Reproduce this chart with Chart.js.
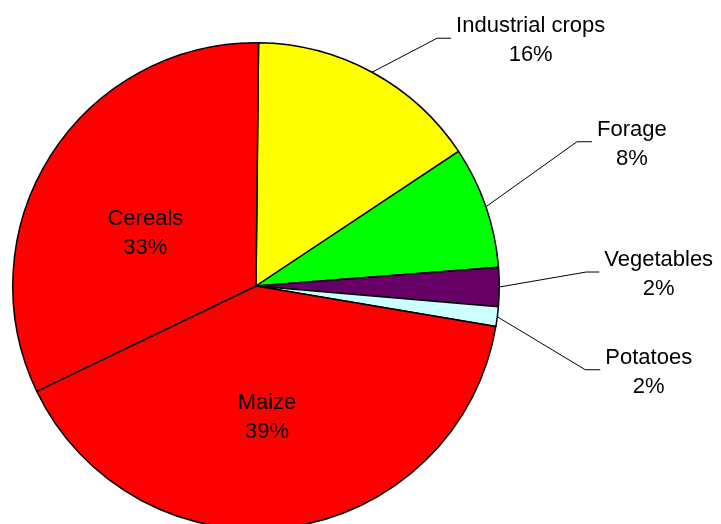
<!DOCTYPE html>
<html>
<head>
<meta charset="utf-8">
<script src="https://cdn.jsdelivr.net/npm/chart.js@4/dist/chart.umd.min.js"></script>
<style>
  html, body { margin: 0; padding: 0; background: #fff; overflow: hidden; }
  #wrap { width: 721px; height: 572px; }
</style>
</head>
<body>
<div id="wrap"><canvas id="pie" width="721" height="572"></canvas></div>
<script>
// 数据 (slice sizes, printed labels as shown)
const categories = ['Industrial crops', 'Forage', 'Vegetables', 'Potatoes', 'Maize', 'Cereals'];
const shares = [15.5, 8.1, 2.6, 1.3, 40.2, 32.3];
const pctLabels = ['16%', '8%', '2%', '2%', '39%', '33%'];
const colors = ['#FFFF00', '#00FF00', '#660066', '#CCFFFF', '#FF0000', '#FF0000'];

// label layout: outside labels get a leader line, inside ones sit on the slice
const labelLayout = [
    { outside: true, dx: 65, dy: -34, run: 14 },
    { outside: true, dx: 91, dy: -65, run: 15 },
    { outside: true, dx: 87, dy: -15, run: 13 },
    { outside: true, dx: 88, dy: 53, run: 15 },
    { outside: false, dx: -6, dy: 9 },
    { outside: false, dx: -8, dy: 10 }
];

const FONT = '22px "Liberation Sans", Arial, sans-serif';

const pieLabels = {
    id: 'pieLabels',
    afterDatasetsDraw(chart) {
        const ctx = chart.ctx;
        const arcs = chart.getDatasetMeta(0).data;
        ctx.save();
        ctx.font = FONT;
        ctx.fillStyle = '#000';
        ctx.strokeStyle = '#000';
        ctx.lineWidth = 1;
        ctx.textAlign = 'center';
        ctx.textBaseline = 'alphabetic';
        arcs.forEach((arc, i) => {
            const p = arc.getProps(['x', 'y', 'startAngle', 'endAngle', 'outerRadius'], true);
            const mid = (p.startAngle + p.endAngle) / 2;
            const lay = labelLayout[i];
            let cx, cy;
            if (lay.outside) {
                const ex = p.x + Math.cos(mid) * p.outerRadius;
                const ey = p.y + Math.sin(mid) * p.outerRadius;
                const bx = ex + lay.dx;
                const by = ey + lay.dy;
                ctx.beginPath();
                ctx.moveTo(ex, ey);
                ctx.lineTo(bx, by);
                ctx.lineTo(bx + lay.run, by);
                ctx.stroke();
                const w = ctx.measureText(categories[i]).width;
                cx = bx + lay.run + 5 + w / 2;
                cy = by;
            } else {
                const pos = arc.tooltipPosition(true);
                cx = pos.x + lay.dx;
                cy = pos.y + lay.dy;
            }
            ctx.fillText(categories[i], cx, cy - 6);
            ctx.fillText(pctLabels[i], cx, cy + 23);
        });
        ctx.restore();
    }
};

new Chart(document.getElementById('pie'), {
    type: 'pie',
    data: {
        labels: categories,
        datasets: [{
            data: shares,
            backgroundColor: colors,
            borderColor: '#000',
            borderWidth: 1.5
        }]
    },
    options: {
        responsive: false,
        animation: false,
        rotation: 0.6,
        layout: { padding: { left: 12, right: 221, top: 42, bottom: 42 } },
        plugins: {
            legend: { display: false },
            tooltip: { enabled: false }
        }
    },
    plugins: [pieLabels]
});
</script>
</body>
</html>
